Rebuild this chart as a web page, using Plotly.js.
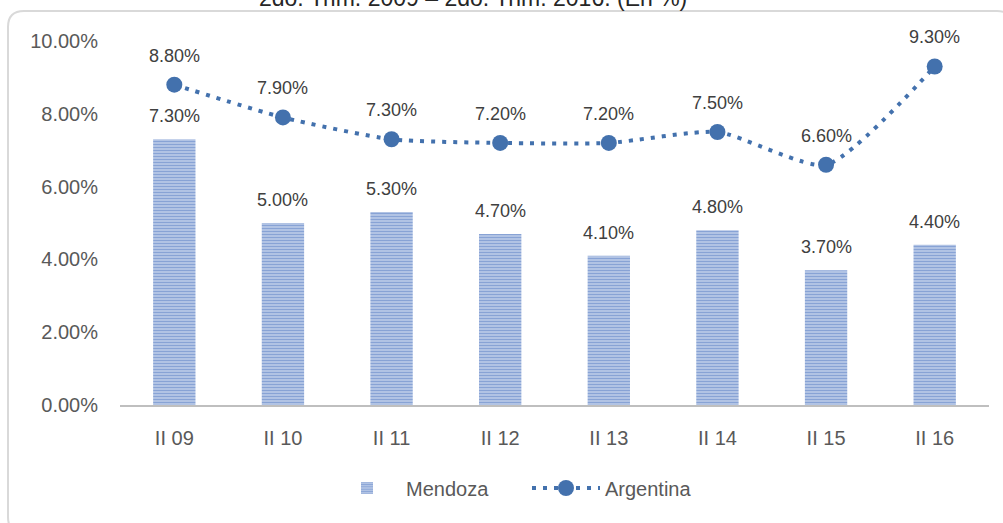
<!DOCTYPE html>
<html>
<head>
<meta charset="utf-8">
<script src="https://cdn.plot.ly/plotly-3.0.1.min.js"></script>
<style>
  html, body { margin: 0; padding: 0; background: #fff; }
  #chart { width: 1003px; height: 523px; }
</style>
</head>
<body>
<div id="chart"></div>
<script>
// ---- data ----
const categories = ["II 09", "II 10", "II 11", "II 12", "II 13", "II 14", "II 15", "II 16"];
const mendoza = [7.3, 5.0, 5.3, 4.7, 4.1, 4.8, 3.7, 4.4];
const argentina = [8.8, 7.9, 7.3, 7.2, 7.2, 7.5, 6.6, 9.3];
const yTickVals = [0, 2, 4, 6, 8, 10];
const yTickText = ["0.00%", "2.00%", "4.00%", "6.00%", "8.00%", "10.00%"];
const titleText = "2do. Trim. 2009 – 2do. Trim. 2016. (En %)";
const seriesNames = ["Mendoza", "Argentina"];

// ---- layout geometry ----
const W = 1003, H = 523;
const M = { l: 120, r: 14, t: 41, b: 118 };
const pw = W - M.l - M.r, ph = H - M.t - M.b;
const px2x = p => (p - M.l) / pw;
const py2y = p => (H - M.b - p) / ph;

const FONT = "Liberation Sans, Arial, sans-serif";
const TXT = "#595959";
const LINE_C = "#4371AD";

const pct = v => v.toFixed(2) + "%";

const traces = [
  {
    type: "bar",
    name: seriesNames[0],
    x: categories,
    y: mendoza,
    width: 0.39,
    marker: {
      color: "#CCD8EF",
      line: { width: 0 },
      pattern: { shape: "-", size: 3, solidity: 0.6, fgcolor: "#88A3D5", bgcolor: "#CCD8EF", fillmode: "replace" }
    },
    hoverinfo: "skip"
  },
  {
    type: "scatter",
    mode: "lines+markers",
    name: seriesNames[1],
    x: categories,
    y: argentina,
    line: { color: LINE_C, width: 4, dash: "4px,7px", shape: "spline", smoothing: 0.6 },
    marker: { color: LINE_C, size: 16 },
    hoverinfo: "skip"
  }
];

const annotations = [];
categories.forEach((c, i) => {
  annotations.push({
    x: c, y: mendoza[i], xref: "x", yref: "y",
    text: pct(mendoza[i]), showarrow: false,
    yanchor: "bottom", yshift: 11,
    font: { family: FONT, size: 18, color: "#404040" }
  });
  annotations.push({
    x: c, y: argentina[i], xref: "x", yref: "y",
    text: pct(argentina[i]), showarrow: false,
    yanchor: "bottom", yshift: 17,
    font: { family: FONT, size: 18, color: "#404040" }
  });
});
annotations.push({
  x: px2x(473), y: py2y(13), xref: "paper", yref: "paper",
  text: titleText, showarrow: false, xanchor: "center", yanchor: "bottom",
  font: { family: FONT, size: 23, color: "#262626" }
});

// rounded border
const bx0 = 8, by0 = 11, bx1 = 1013, by1 = 533, r = 16;
const P = (x, y) => px2x(x) + "," + py2y(y);
const borderPath =
  "M" + P(bx0 + r, by0) + " L" + P(bx1 - r, by0) + " Q" + P(bx1, by0) + " " + P(bx1, by0 + r) +
  " L" + P(bx1, by1 - r) + " Q" + P(bx1, by1) + " " + P(bx1 - r, by1) +
  " L" + P(bx0 + r, by1) + " Q" + P(bx0, by1) + " " + P(bx0, by1 - r) +
  " L" + P(bx0, by0 + r) + " Q" + P(bx0, by0) + " " + P(bx0 + r, by0) + " Z";

const layout = {
  width: W, height: H,
  margin: M,
  paper_bgcolor: "#ffffff",
  plot_bgcolor: "rgba(0,0,0,0)",
  font: { family: FONT, color: TXT, size: 20 },
  showlegend: true,
  legend: {
    orientation: "h",
    x: px2x(328), xanchor: "left",
    y: py2y(488), yanchor: "middle",
    font: { family: FONT, size: 20, color: TXT },
    itemwidth: 68,
    entrywidth: 116,
    traceorder: "normal"
  },
  xaxis: {
    type: "category",
    range: [-0.5, 7.5],
    showline: true, linecolor: "#BFBFBF", linewidth: 2,
    showgrid: false, zeroline: false,
    ticks: "", ticklabelstandoff: 14,
    tickfont: { family: FONT, size: 20, color: TXT },
    fixedrange: true
  },
  yaxis: {
    range: [0, 10],
    tickvals: yTickVals, ticktext: yTickText,
    showline: false, showgrid: false, zeroline: false,
    ticks: "", ticklabelstandoff: 21,
    tickfont: { family: FONT, size: 20, color: TXT },
    fixedrange: true
  },
  bargap: 0.61,
  annotations: annotations,
  shapes: [{
    type: "path", xref: "paper", yref: "paper", path: borderPath,
    line: { color: "#D9D9D9", width: 2 }, fillcolor: "rgba(0,0,0,0)", layer: "below"
  }]
};

Plotly.newPlot("chart", traces, layout, { displayModeBar: false, staticPlot: true });
</script>
</body>
</html>
